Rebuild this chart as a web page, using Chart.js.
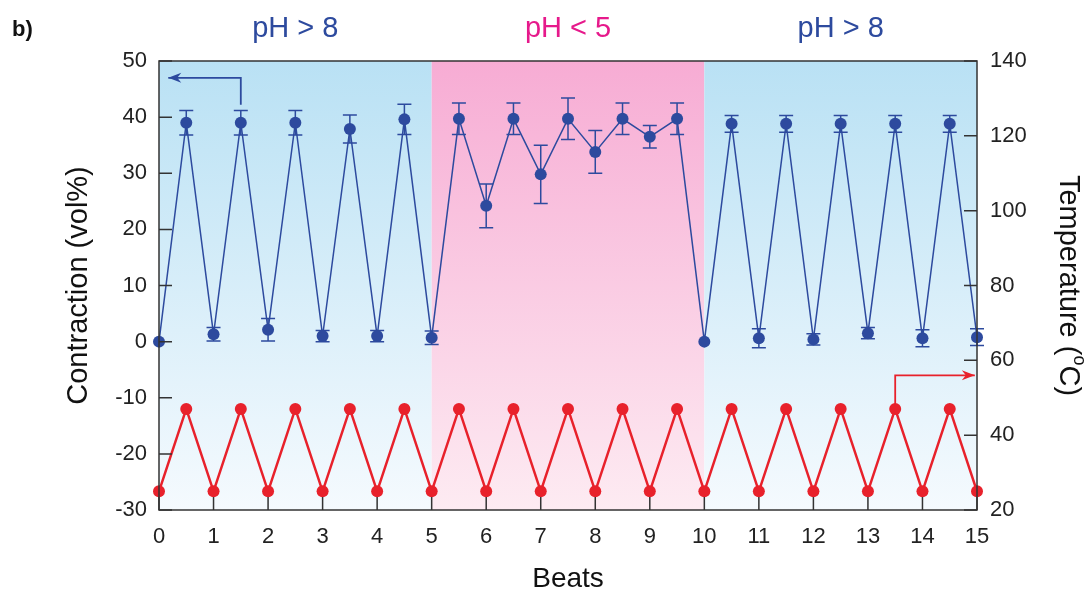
<!DOCTYPE html>
<html>
<head>
<meta charset="utf-8">
<script src="https://cdn.jsdelivr.net/npm/chart.js@4.4.1/dist/chart.umd.min.js"></script>
<style>
  body { margin: 0; background: #fff; }
</style>
</head>
<body>
<canvas id="beatChart" width="1090" height="598"></canvas>
<script>
// dữ liệu
const beats = [0, 0.5, 1, 1.5, 2, 2.5, 3, 3.5, 4, 4.5, 5, 5.5, 6, 6.5, 7, 7.5, 8, 8.5, 9, 9.5,
  10, 10.5, 11, 11.5, 12, 12.5, 13, 13.5, 14, 14.5, 15];
const contraction = [0, 39, 1.3, 39, 2.1, 39, 1, 37.9, 1, 39.6, 0.7, 39.7, 24.2, 39.7, 29.8, 39.7,
  33.8, 39.7, 36.5, 39.7, 0, 38.8, 0.6, 38.8, 0.4, 38.8, 1.5, 38.8, 0.6, 38.8, 0.8];
const contractionErr = [0, 2.2, 1.2, 2.2, 2, 2.2, 1, 2.5, 1, 2.7, 1.2, 2.8, 3.9, 2.8, 5.2, 3.7,
  3.8, 2.8, 2, 2.8, 0, 1.5, 1.7, 1.5, 1, 1.5, 1, 1.5, 1.5, 1.5, 1.5];
const temperature = [25, 47, 25, 47, 25, 47, 25, 47, 25, 47, 25, 47, 25, 47, 25, 47,
  25, 47, 25, 47, 25, 47, 25, 47, 25, 47, 25, 47, 25, 47, 25];

const regionStart = [0, 5, 10];
const regionEnd = [5, 10, 15];
const regionLabel = ["pH > 8", "pH < 5", "pH > 8"];
const regionAcid = [false, true, false];

// mũi tên chỉ trục (toạ độ theo đơn vị dữ liệu)
const blueArrow = { x: [1.5, 1.5, 0.17], y: [42.2, 47, 47] };
const redArrow = { x: [13.5, 13.5, 14.96], y: [48, 56, 56] };

const BLUE = "#2d4a9e";
const RED = "#e8212b";
const PINK = "#e6198b";
const FONT = "'Liberation Sans', Arial, sans-serif";

function drawArrow(ctx, pts, color) {
  ctx.save();
  ctx.strokeStyle = color;
  ctx.fillStyle = color;
  ctx.lineWidth = 1.8;
  ctx.beginPath();
  ctx.moveTo(pts[0][0], pts[0][1]);
  for (let i = 1; i < pts.length; i++) ctx.lineTo(pts[i][0], pts[i][1]);
  ctx.stroke();
  const n = pts.length;
  const [x1, y1] = pts[n - 2];
  const [x2, y2] = pts[n - 1];
  const a = Math.atan2(y2 - y1, x2 - x1);
  ctx.beginPath();
  ctx.moveTo(x2, y2);
  ctx.lineTo(x2 - 13 * Math.cos(a) + 5 * Math.sin(a), y2 - 13 * Math.sin(a) - 5 * Math.cos(a));
  ctx.lineTo(x2 - 9 * Math.cos(a), y2 - 9 * Math.sin(a));
  ctx.lineTo(x2 - 13 * Math.cos(a) - 5 * Math.sin(a), y2 - 13 * Math.sin(a) + 5 * Math.cos(a));
  ctx.closePath();
  ctx.fill();
  ctx.restore();
}

const decorPlugin = {
  id: "decor",
  beforeDraw(chart) {
    const { ctx, chartArea, scales } = chart;
    ctx.save();
    // nền gradient cho từng vùng pH
    regionStart.forEach((s, i) => {
      const x0 = scales.x.getPixelForValue(s);
      const x1 = scales.x.getPixelForValue(regionEnd[i]);
      const g = ctx.createLinearGradient(0, chartArea.top, 0, chartArea.bottom);
      if (regionAcid[i]) {
        g.addColorStop(0, "#f7acd4");
        g.addColorStop(1, "#fdebf2");
      } else {
        g.addColorStop(0, "#b9e1f4");
        g.addColorStop(1, "#f5fafe");
      }
      ctx.fillStyle = g;
      ctx.fillRect(x0, chartArea.top, x1 - x0, chartArea.bottom - chartArea.top);
    });
    // nhãn pH phía trên
    ctx.font = "29px " + FONT;
    ctx.textAlign = "center";
    ctx.textBaseline = "middle";
    regionLabel.forEach((t, i) => {
      ctx.fillStyle = regionAcid[i] ? PINK : BLUE;
      const xc = scales.x.getPixelForValue((regionStart[i] + regionEnd[i]) / 2);
      ctx.fillText(t, xc, 29);
    });
    ctx.fillStyle = "#111";
    ctx.font = "bold 22px " + FONT;
    ctx.textAlign = "left";
    ctx.fillText("b)", 12, 30);
    ctx.restore();
  },
  beforeDatasetsDraw(chart) {
    // thanh sai số
    const { ctx, scales } = chart;
    ctx.save();
    ctx.strokeStyle = BLUE;
    ctx.lineWidth = 1.5;
    beats.forEach((b, i) => {
      const e = contractionErr[i];
      if (!e) return;
      const x = scales.x.getPixelForValue(b);
      const yt = scales.y.getPixelForValue(contraction[i] + e);
      const yb = scales.y.getPixelForValue(contraction[i] - e);
      ctx.beginPath();
      ctx.moveTo(x, yt); ctx.lineTo(x, yb);
      ctx.moveTo(x - 7, yt); ctx.lineTo(x + 7, yt);
      ctx.moveTo(x - 7, yb); ctx.lineTo(x + 7, yb);
      ctx.stroke();
    });
    ctx.restore();
  },
  afterDraw(chart) {
    const { ctx, chartArea, scales } = chart;
    const { left, right, top, bottom } = chartArea;
    ctx.save();
    ctx.strokeStyle = "#333";
    ctx.lineWidth = 1.5;
    ctx.strokeRect(left, top, right - left, bottom - top);
    // vạch chia hướng vào trong
    ctx.beginPath();
    scales.y.ticks.forEach((t) => {
      const y = scales.y.getPixelForValue(t.value);
      ctx.moveTo(left, y); ctx.lineTo(left + 13, y);
    });
    scales.y2.ticks.forEach((t) => {
      const y = scales.y2.getPixelForValue(t.value);
      ctx.moveTo(right, y); ctx.lineTo(right - 13, y);
    });
    scales.x.ticks.forEach((t) => {
      const x = scales.x.getPixelForValue(t.value);
      ctx.moveTo(x, bottom); ctx.lineTo(x, bottom - 13);
    });
    ctx.stroke();

    // mũi tên
    const bp = blueArrow.x.map((v, i) => [scales.x.getPixelForValue(v), scales.y.getPixelForValue(blueArrow.y[i])]);
    drawArrow(ctx, bp, BLUE);
    const rp = redArrow.x.map((v, i) => [scales.x.getPixelForValue(v), scales.y2.getPixelForValue(redArrow.y[i])]);
    drawArrow(ctx, rp, RED);

    // tiêu đề trục phải với chữ o nhỏ
    ctx.translate(1068, (top + bottom) / 2);
    ctx.rotate(Math.PI / 2);
    ctx.fillStyle = "#111";
    ctx.textBaseline = "middle";
    ctx.textAlign = "left";
    const big = "29px " + FONT;
    const small = "18px " + FONT;
    ctx.font = big;
    const w1 = ctx.measureText("Temperature (").width;
    const w3 = ctx.measureText("C)").width;
    ctx.font = small;
    const w2 = ctx.measureText("o").width;
    let x = -(w1 + w2 + w3) / 2;
    ctx.font = big;
    ctx.fillText("Temperature (", x, 0);
    x += w1;
    ctx.font = small;
    ctx.fillText("o", x, -11);
    x += w2;
    ctx.font = big;
    ctx.fillText("C)", x, 0);
    ctx.restore();
  },
};

const tickFont = { family: FONT, size: 22 };

new Chart(document.getElementById("beatChart").getContext("2d"), {
  type: "scatter",
  data: {
    datasets: [
      {
        label: "Contraction",
        data: beats.map((b, i) => ({ x: b, y: contraction[i] })),
        yAxisID: "y",
        showLine: true,
        borderColor: BLUE,
        borderWidth: 1.5,
        backgroundColor: BLUE,
        pointRadius: 6,
        pointBorderWidth: 0,
        clip: false,
      },
      {
        label: "Temperature",
        data: beats.map((b, i) => ({ x: b, y: temperature[i] })),
        yAxisID: "y2",
        showLine: true,
        borderColor: RED,
        borderWidth: 2.5,
        backgroundColor: RED,
        pointRadius: 6,
        pointBorderWidth: 0,
        clip: false,
      },
    ],
  },
  options: {
    responsive: false,
    animation: false,
    layout: { padding: { top: 61, left: 0, right: 0, bottom: 0 } },
    plugins: { legend: { display: false }, tooltip: { enabled: false } },
    scales: {
      x: {
        type: "linear",
        min: 0,
        max: 15,
        ticks: { stepSize: 1, font: tickFont, color: "#222", padding: 14, maxRotation: 0 },
        grid: { display: false, drawTicks: false },
        border: { display: false },
        title: { display: true, text: "Beats", font: { family: FONT, size: 28 }, color: "#111", padding: { bottom: 2 } },
        afterFit(scale) { scale.height = 88; },
      },
      y: {
        position: "left",
        min: -30,
        max: 50,
        ticks: { stepSize: 10, font: tickFont, color: "#222", padding: 12 },
        grid: { display: false, drawTicks: false },
        border: { display: false },
        title: { display: true, text: "Contraction (vol%)", font: { family: FONT, size: 29 }, color: "#111", padding: { top: 62 } },
        afterFit(scale) { scale.width = 159; },
      },
      y2: {
        position: "right",
        min: 20,
        max: 140,
        ticks: { stepSize: 20, font: tickFont, color: "#222", padding: 13 },
        grid: { display: false, drawTicks: false },
        border: { display: false },
        afterFit(scale) { scale.width = 113; },
      },
    },
  },
  plugins: [decorPlugin],
});
</script>
</body>
</html>
